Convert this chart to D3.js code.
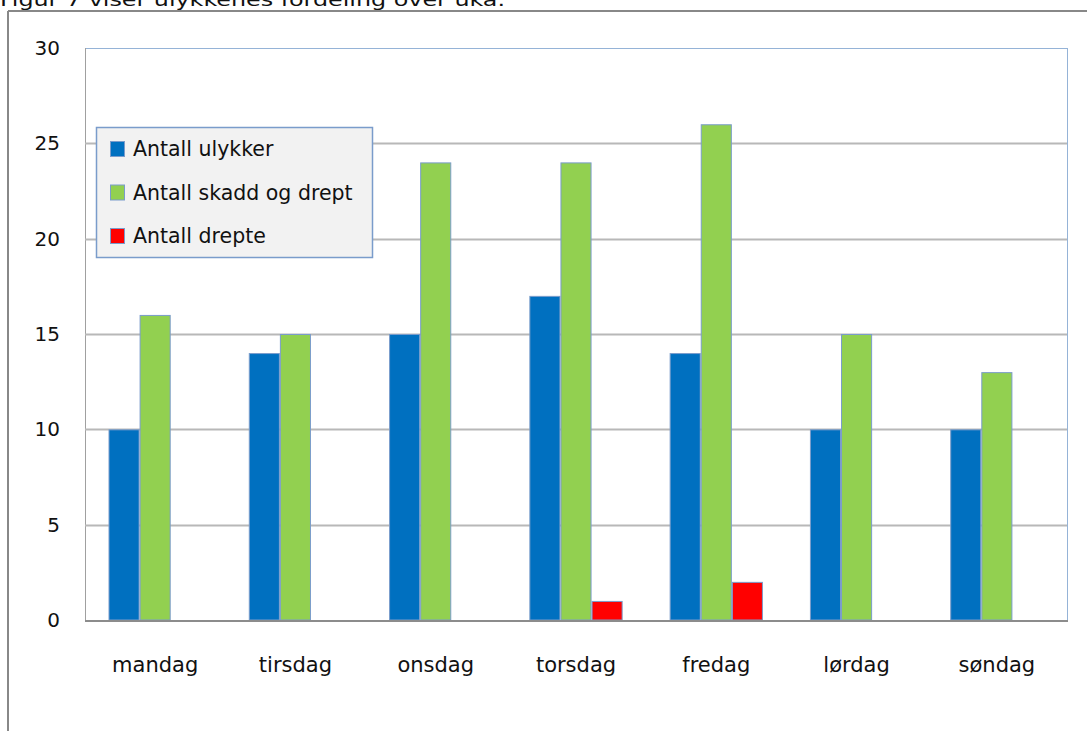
<!DOCTYPE html>
<html><head><meta charset="utf-8">
<script src="https://cdn.jsdelivr.net/npm/d3@7"></script>
<style>body{margin:0;background:#fff;}svg{display:block;}</style>
</head><body>
<svg id="c" width="1087" height="731"></svg>
<script>
const categories = ["mandag","tirsdag","onsdag","torsdag","fredag","lørdag","søndag"];
const seriesNames = ["Antall ulykker","Antall skadd og drept","Antall drepte"];
const ulykker = [10,14,15,17,14,10,10];
const skadd = [16,15,24,24,26,15,13];
const drepte = [0,0,0,1,2,0,0];
const yTicks = [0,5,10,15,20,25,30];
const colors = ["#0070C0","#92D050","#FF0000"];
const title = "Figur 7 viser ulykkenes fordeling over uka.";

const svg = d3.select("#c");
const font = "'DejaVu Sans', Verdana, sans-serif";
const L=85, T=48, R=1067, B=620;

// title (cut at top)
svg.append("text").attr("x",0).attr("y",6).attr("font-family","'DejaVu Sans Condensed', 'DejaVu Sans'").attr("font-size",18)
  .attr("fill","#111").attr("textLength",505).attr("lengthAdjust","spacingAndGlyphs").text(title);
// outer frame
svg.append("line").attr("x1",8).attr("x2",1087).attr("y1",11).attr("y2",11).attr("stroke","#888").attr("stroke-width",2);
svg.append("line").attr("x1",8).attr("x2",8).attr("y1",11).attr("y2",731).attr("stroke","#888").attr("stroke-width",2);

const x = d3.scaleBand().domain(categories).range([L,R]).paddingInner(0).paddingOuter(0);
const x1 = d3.scaleBand().domain(seriesNames).range([23.5, x.bandwidth()-23.5]);
const y = d3.scaleLinear().domain([0,30]).range([B,T]);

// plot area border
svg.append("line").attr("x1",L).attr("x2",R).attr("y1",T+0.5).attr("y2",T+0.5).attr("stroke","#95B3D7");
svg.append("line").attr("x1",R+0.5).attr("x2",R+0.5).attr("y1",T).attr("y2",B).attr("stroke","#95B3D7");
svg.append("line").attr("x1",L+0.5).attr("x2",L+0.5).attr("y1",T).attr("y2",B).attr("stroke","#a0a0a0");

// grid
svg.append("g").selectAll("line").data(yTicks.filter(d=>d>0 && d<30)).join("line")
  .attr("x1",L).attr("x2",R).attr("y1",d=>Math.round(y(d))+0.5).attr("y2",d=>Math.round(y(d))+0.5)
  .attr("stroke","#b8b8b8").attr("stroke-width",2);

// y axis labels
const yAxis = d3.axisLeft(y).tickValues(yTicks).tickSize(0).tickPadding(25);
const gy = svg.append("g").attr("transform",`translate(${L},0)`).call(yAxis);
gy.select(".domain").remove();
gy.selectAll("text").attr("font-family",font).attr("font-size",20).attr("fill","#111");

// bars
const data = categories.map((c,i)=>({c, v:[ulykker[i],skadd[i],drepte[i]]}));
const g = svg.append("g");
data.forEach(d=>{
  seriesNames.forEach((s,j)=>{
    if(d.v[j]<=0) return;
    g.append("rect").attr("x",x(d.c)+x1(s)+0.5).attr("y",y(d.v[j])+0.5)
      .attr("width",x1.bandwidth()-1).attr("height",B-y(d.v[j])-0.5)
      .attr("fill",colors[j]).attr("stroke","#7A9CCB").attr("stroke-width",1);
  });
});

// x axis
const xAxis = d3.axisBottom(x).tickSize(0).tickPadding(37);
const gx = svg.append("g").attr("transform",`translate(0,${B})`).call(xAxis);
gx.select(".domain").remove();
gx.selectAll("text").attr("font-family",font).attr("font-size",21).attr("fill","#111");
svg.append("line").attr("x1",L).attr("x2",R+1).attr("y1",B+1).attr("y2",B+1).attr("stroke","#8c8c8c").attr("stroke-width",2);

// legend
const lg = svg.append("g");
lg.append("rect").attr("x",96.5).attr("y",127.5).attr("width",276).attr("height",130)
  .attr("fill","#f2f2f2").attr("stroke","#7A9CCB").attr("stroke-width",1.5);
seriesNames.forEach((s,j)=>{
  const base = 156 + j*43.5;
  lg.append("rect").attr("x",110.5).attr("y",base-14.5).attr("width",14).attr("height",15)
    .attr("fill",colors[j]).attr("stroke","#7A9CCB");
  lg.append("text").attr("x",133).attr("y",base).attr("font-family",font).attr("font-size",20.5).attr("fill","#111").text(s);
});
</script>
</body></html>
